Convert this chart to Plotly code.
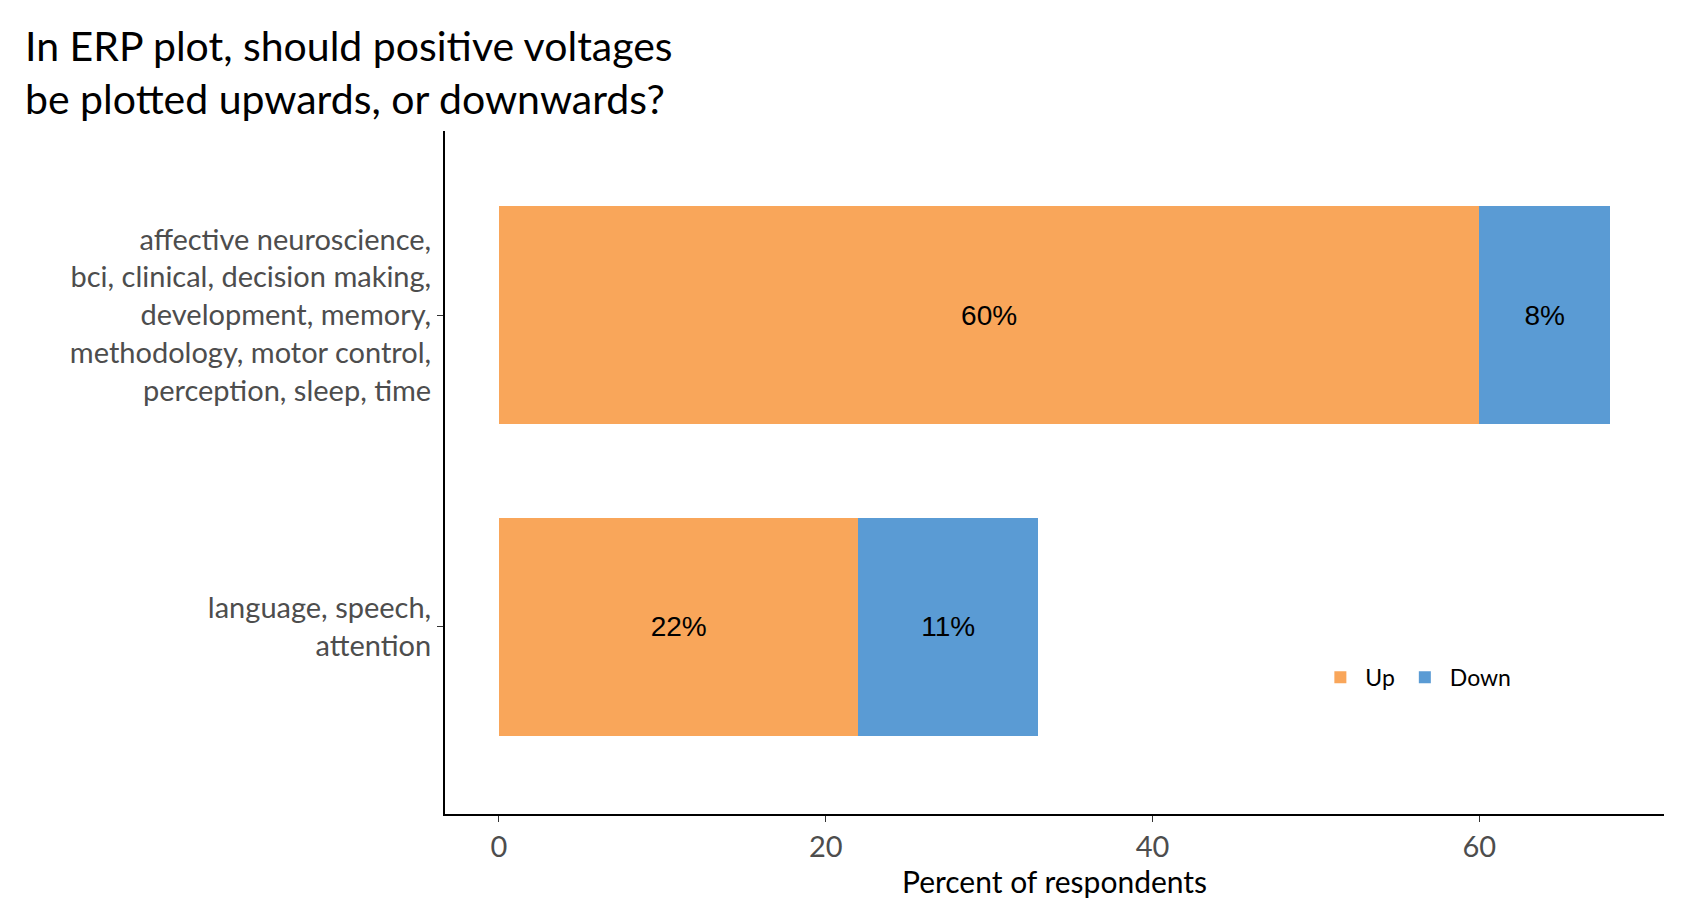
import plotly.graph_objects as go

categories = ["language, speech,<br>attention",
              "affective neuroscience,<br>bci, clinical, decision making,<br>development, memory,<br>methodology, motor control,<br>perception, sleep, time"]
up_values = [22, 60]
down_values = [11, 8]
x_ticks = [0, 20, 40, 60]

fig = go.Figure()
for name, vals, color in [("Up", up_values, "#F9A65A"), ("Down", down_values, "#5A9BD4")]:
    fig.add_trace(go.Bar(
        y=categories, x=vals, name=name, orientation="h",
        marker=dict(color=color, line=dict(width=0)),
        text=[f"{v}%" for v in vals], textposition="inside",
        insidetextanchor="middle",
        textfont=dict(family="Liberation Sans", size=28, color="black"),
        width=0.7,
    ))

fig.update_layout(
    barmode="stack",
    width=1700, height=916,
    plot_bgcolor="white", paper_bgcolor="white",
    margin=dict(l=437, r=44, t=123, b=110),
    font=dict(family="Lato", color="#4d4d4d"),
    xaxis=dict(range=[-3.3, 71.3], tickvals=x_ticks, showgrid=False, zeroline=False,
               showline=True, linecolor="black", linewidth=2, ticks="outside",
               ticklen=6, tickcolor="#333", tickfont=dict(size=29, color="#4d4d4d"),
               title=dict(text="Percent of respondents", font=dict(size=30, color="black"),
                          standoff=8)),
    yaxis=dict(range=[-0.6, 1.59], showgrid=False, zeroline=False, showline=True,
               linecolor="black", linewidth=2, ticks="outside", ticklen=6,
               tickcolor="#333", tickfont=dict(size=29, color="#4d4d4d")),
    legend=dict(orientation="h", x=0.714, y=0.2, xanchor="left", yanchor="middle",
                font=dict(size=23, color="black"), itemwidth=40, traceorder="normal"),
    annotations=[dict(text="In ERP plot, should positive voltages<br>be plotted upwards, or downwards?",
                      xref="paper", yref="paper", x=0, y=1, xshift=-422, yshift=112,
                      xanchor="left", yanchor="top", align="left", showarrow=False,
                      font=dict(size=41, color="black", family="Lato"))],
)

fig.write_html("out.html")
